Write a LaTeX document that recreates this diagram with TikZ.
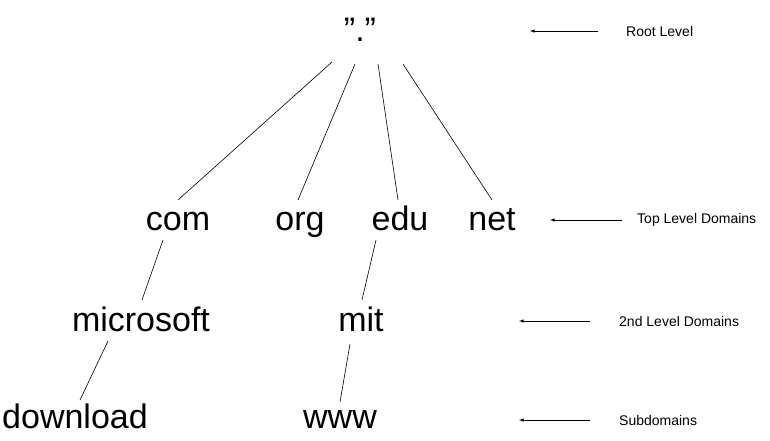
\documentclass[tikz,border=0pt]{standalone}
\usepackage{fontspec}
\setmainfont{Liberation Sans}
\begin{document}
\begin{tikzpicture}[x=1pt,y=-1pt,
  big/.style={inner sep=0pt,anchor=base,font=\fontsize{34}{34}\selectfont},
  small/.style={inner sep=0pt,font=\fontsize{14}{14}\selectfont,anchor=west},
  edge/.style={draw,line width=0.6pt},
  lvl/.style={draw,line width=0.6pt,-latex}]
\useasboundingbox (0,0) rectangle (770,441);
\node[big] (root) at (360,42) {\symbol{34}.\symbol{34}};
\node[big] (com) at (178,230) {com};
\node[big] (org) at (300,230) {org};
\node[big] (edu) at (400,230) {edu};
\node[big] (net) at (492,230) {net};
\node[big] (ms) at (141,331) {microsoft};
\node[big] (mit) at (361,331) {mit};
\node[big] (dl) at (75,428) {download};
\node[big] (www) at (340,428) {www};
\coordinate (r1) at (332,62); \coordinate (c1) at (178,200);
\coordinate (r2) at (355,64); \coordinate (o1) at (298,200);
\coordinate (r3) at (378,64); \coordinate (e1) at (398,200);
\coordinate (r4) at (403,64); \coordinate (n1) at (492,200);
\coordinate (c2) at (163,240); \coordinate (m1) at (142,300);
\coordinate (m2) at (108,341); \coordinate (d1) at (80,400);
\coordinate (e2) at (376,240); \coordinate (t1) at (362,300);
\coordinate (t2) at (350,344); \coordinate (w1) at (340,402);
\draw[edge] (r1)--(c1); \draw[edge] (r2)--(o1);
\draw[edge] (r3)--(e1); \draw[edge] (r4)--(n1);
\draw[edge] (c2)--(m1); \draw[edge] (m2)--(d1);
\draw[edge] (e2)--(t1); \draw[edge] (t2)--(w1);
\node[small] (L1) at (626,31) {Root Level};
\node[small] (L2) at (637,220) {Top Level Domains};
\node[small] (L3) at (619,321) {2nd Level Domains};
\node[small] (L4) at (619,420) {Subdomains};
\coordinate (a1s) at (598,31); \coordinate (a1e) at (530,31);
\coordinate (a2s) at (622,220); \coordinate (a2e) at (550,220);
\coordinate (a3s) at (590,321); \coordinate (a3e) at (519,321);
\coordinate (a4s) at (590,420); \coordinate (a4e) at (519,420);
\draw[lvl] (a1s)--(a1e); \draw[lvl] (a2s)--(a2e);
\draw[lvl] (a3s)--(a3e); \draw[lvl] (a4s)--(a4e);
\end{tikzpicture}
\end{document}
